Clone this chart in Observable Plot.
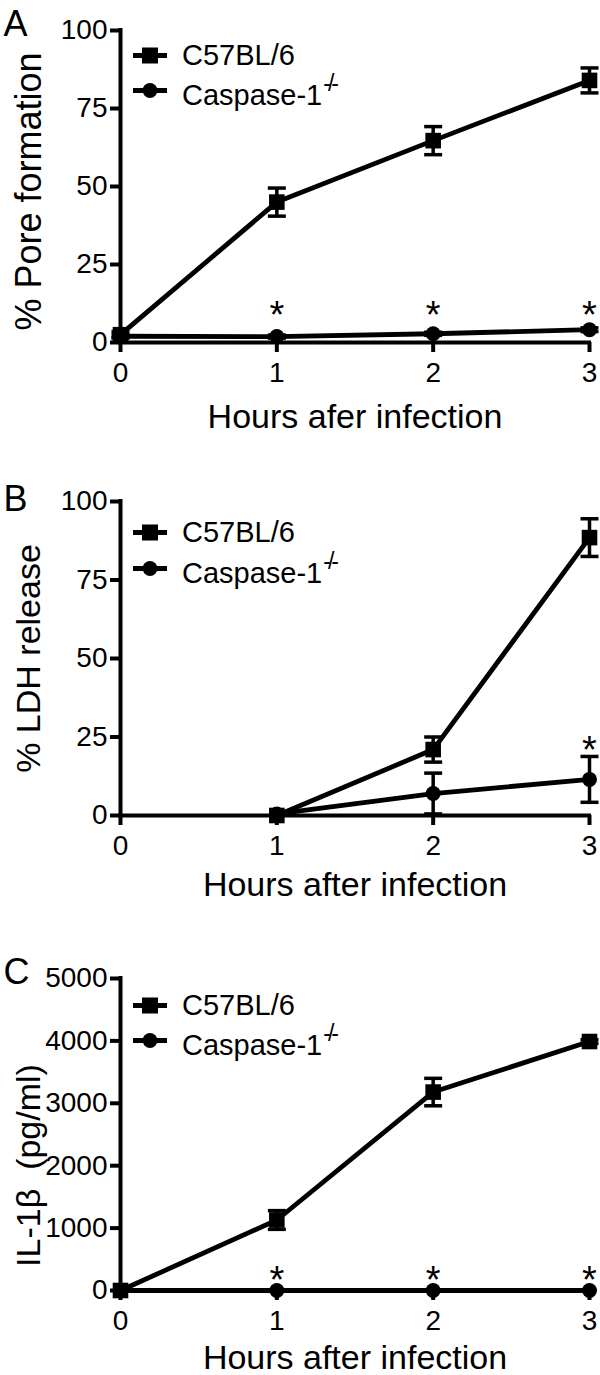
<!DOCTYPE html>
<html>
<head>
<meta charset="utf-8">
<script src="https://cdn.jsdelivr.net/npm/d3@7"></script>
<script src="https://cdn.jsdelivr.net/npm/@observablehq/plot@0.6"></script>
<style>
  html, body { margin: 0; padding: 0; background: #fff; }
  body { font-family: "Liberation Sans", Arial, Helvetica, sans-serif; color: #000; }
  .panel { position: relative; width: 600px; }
  .panel svg { display: block; }
  .lg { position: absolute; left: 133px; height: 40px; display: flex; align-items: center; white-space: nowrap; }
  .lg span.t { font-size: 29px; line-height: 40px; margin-left: 15px; }
  .lg sup { font-size: 23px; position: relative; top: -3px; letter-spacing: -3px; margin-left: 1px; }
</style>
</head>
<body>
<div id="chart"></div>
<script>
// ---------- shared ----------
const seriesNames = ["C57BL/6", "Caspase-1"];
const hours = [0, 1, 2, 3];

// ---------- Panel A: % Pore formation ----------
const poreHours = [0, 1, 2, 3];
const poreWT = [2.5, 45, 64.7, 84];
const poreWTErr = [1, 4.5, 4.5, 4];
const poreKO = [2, 1.9, 2.8, 4.1];
const poreKOErr = [0.5, 0.5, 0.5, 0.6];
const poreStarX = [1, 2, 3];
const poreStarY = [8.5, 8.5, 8.5];
const poreTicks = [0, 25, 50, 75, 100];

// ---------- Panel B: % LDH release ----------
const ldhHours = [1, 2, 3];
const ldhWT = [0, 21, 88.5];
const ldhWTErr = [0, 4, 6];
const ldhKO = [0.5, 7, 11.5];
const ldhKOErr = [0, 6.5, 7.3];
const ldhStarX = [3];
const ldhStarY = [20.5];
const ldhTicks = [0, 25, 50, 75, 100];

// ---------- Panel C: IL-1β ----------
const ilHours = [0, 1, 2, 3];
const ilWT = [0, 1130, 3180, 3990];
const ilWTErr = [0, 150, 220, 30];
const ilKO = [0, 0, 0, 0];
const ilKOErr = [0, 0, 0, 0];
const ilStarX = [1, 2, 3];
const ilStarY = [160, 160, 160];
const ilTicks = [0, 1000, 2000, 3000, 4000, 5000];

const FONT = "Liberation Sans, Arial, Helvetica, sans-serif";

// horizontal error-bar cap as a custom symbol
const capSymbol = {
  draw(ctx, size) {
    const r = Math.sqrt(size / Math.PI);
    ctx.moveTo(-r, 0);
    ctx.lineTo(r, 0);
  }
};

function makePanel(cfg) {
  const wt = cfg.xs.map((x, i) => ({x, y: cfg.wt[i], e: cfg.wtErr[i]}));
  const ko = cfg.xs.map((x, i) => ({x, y: cfg.ko[i], e: cfg.koErr[i]}));
  const errs = [...wt, ...ko].filter(d => d.e > 0);
  const caps = errs.flatMap(d => [{x: d.x, y: d.y + d.e}, {x: d.x, y: Math.max(0, d.y - d.e)}]);
  const stars = cfg.starX.map((x, i) => ({x, y: cfg.starY[i]}));

  const svg = Plot.plot({
    width: 600,
    height: cfg.height,
    marginLeft: 120,
    marginRight: 11,
    marginTop: cfg.marginTop,
    marginBottom: cfg.marginBottom,
    x: {domain: [0, 3]},
    y: {domain: cfg.yDomain},
    style: {fontFamily: FONT, fontSize: "28px", color: "black", background: "white", overflow: "visible"},
    marks: [
      Plot.axisX({ticks: hours, tickSize: 10, tickPadding: 10, strokeWidth: 4, tickFormat: d => `${d}`, label: null}),
      Plot.axisY({ticks: cfg.yTicks, tickSize: 10, tickPadding: 3, strokeWidth: 4, tickFormat: d => `${d}`, label: null}),
      Plot.ruleY([0], {stroke: "black", strokeWidth: 4, strokeLinecap: "square"}),
      Plot.ruleX([0], {stroke: "black", strokeWidth: 4, strokeLinecap: "square"}),
      Plot.ruleX(errs, {x: "x", y1: d => Math.max(0, d.y - d.e), y2: d => d.y + d.e, stroke: "black", strokeWidth: 3.5}),
      Plot.dot(caps, {x: "x", y: "y", symbol: capSymbol, r: 9, stroke: "black", strokeWidth: 3.5, fill: "none"}),
      Plot.line(ko, {x: "x", y: "y", stroke: "black", strokeWidth: 4.8}),
      Plot.line(wt, {x: "x", y: "y", stroke: "black", strokeWidth: 4.8}),
      Plot.dot(ko, {x: "x", y: "y", symbol: "circle", r: 7.5, fill: "black"}),
      Plot.dot(wt, {x: "x", y: "y", symbol: "square", r: 8.8, fill: "black"}),
      Plot.text(stars, {x: "x", y: "y", text: () => "*", fontSize: 38, fill: "black"}),
      Plot.text([cfg.yLabel], {text: d => d, frameAnchor: "left", textAnchor: "middle", lineAnchor: "middle", rotate: -90, dx: -91, dy: cfg.yLabelDy, fontSize: cfg.yLabelSize, fill: "black"}),
      Plot.text([cfg.xLabel], {text: d => d, frameAnchor: "bottom", textAnchor: "middle", lineAnchor: "middle", dy: cfg.xLabelDy, fontSize: 34, fill: "black"}),
      Plot.text([cfg.letter], {text: d => d, frameAnchor: "top-left", textAnchor: "start", lineAnchor: "bottom", dx: -117, dy: cfg.letterDy, fontSize: 36, fill: "black"})
    ]
  });

  const div = document.createElement("div");
  div.className = "panel";
  div.appendChild(svg);

  // legend overlay
  const items = [
    {name: seriesNames[0], sym: "square", sup: ""},
    {name: seriesNames[1], sym: "circle", sup: "-/-"}
  ];
  items.forEach((it, i) => {
    const el = document.createElement("div");
    el.className = "lg";
    el.style.top = (cfg.marginTop + cfg.legendDy[i] - 20) + "px";
    const symbol = it.sym === "square"
      ? '<rect x="9" y="1.5" width="16" height="16" fill="black"/>'
      : '<circle cx="17" cy="9.5" r="7.5" fill="black"/>';
    el.innerHTML =
      '<svg width="34" height="19" style="overflow:visible"><line x1="0" x2="34" y1="9.5" y2="9.5" stroke="black" stroke-width="5"/>' +
      symbol + '</svg><span class="t">' + it.name + (it.sup ? '<sup>' + it.sup + '</sup>' : '') + '</span>';
    div.appendChild(el);
  });
  return div;
}

const panels = [
  {letter: "A", xs: poreHours, wt: poreWT, wtErr: poreWTErr, ko: poreKO, koErr: poreKOErr,
   starX: poreStarX, starY: poreStarY, yDomain: [0, 100], yTicks: poreTicks,
   yLabel: "% Pore formation", xLabel: "Hours afer infection",
   height: 440, marginTop: 30, marginBottom: 98, letterDy: 5, yLabelSize: 36, yLabelDy: 5, xLabelDy: 75, legendDy: [25, 60]},
  {letter: "B", xs: ldhHours, wt: ldhWT, wtErr: ldhWTErr, ko: ldhKO, koErr: ldhKOErr,
   starX: ldhStarX, starY: ldhStarY, yDomain: [0, 100], yTicks: ldhTicks,
   yLabel: "% LDH release", xLabel: "Hours after infection",
   height: 470, marginTop: 61, marginBottom: 95, letterDy: 9, yLabelSize: 34, yLabelDy: 0, xLabelDy: 70, legendDy: [31, 67]},
  {letter: "C", xs: ilHours, wt: ilWT, wtErr: ilWTErr, ko: ilKO, koErr: ilKOErr,
   starX: ilStarX, starY: ilStarY, yDomain: [0, 5000], yTicks: ilTicks,
   yLabel: "IL-1β\u00a0\u00a0(pg/ml)", xLabel: "Hours after infection",
   height: 465, marginTop: 68, marginBottom: 85, letterDy: 5, yLabelSize: 34, yLabelDy: 31, xLabelDy: 68, legendDy: [27, 62]}
];

const chart = document.getElementById("chart");
panels.forEach(p => chart.appendChild(makePanel(p)));
</script>
</body>
</html>
